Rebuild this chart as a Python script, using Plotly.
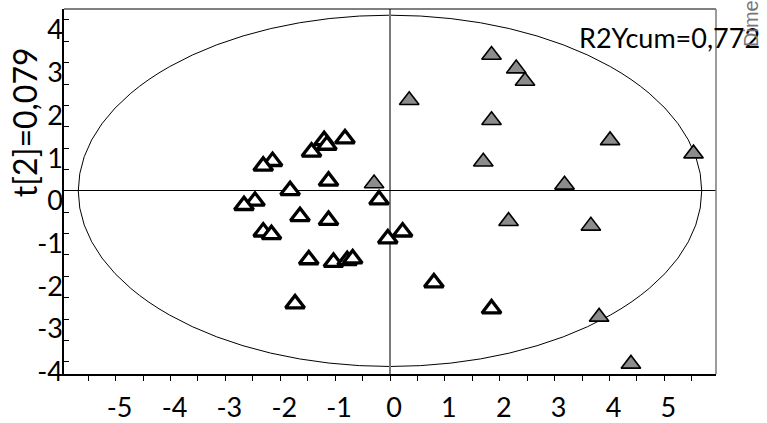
import plotly.graph_objects as go

# Score coordinates t[1] (x) and t[2] (y) for the two classes
class1_t1 = [-1.20, -0.82, -1.15, -1.43, -2.14, -2.31, -1.12, -1.82, -2.46, -2.66,
             -0.20, -1.64, -1.12, -2.31, -2.16, 0.23, -0.04, -1.48, -1.03, -0.78,
             -0.68, -1.73, 0.80, 1.85]
class1_t2 = [1.18, 1.22, 1.07, 0.91, 0.69, 0.58, 0.23, 0.01, -0.24, -0.34,
             -0.21, -0.60, -0.69, -0.96, -1.02, -0.96, -1.12, -1.61, -1.67, -1.63,
             -1.59, -2.64, -2.15, -2.76]

class2_t1 = [1.85, 2.30, 2.46, 0.35, 1.85, 4.01, 5.53, 1.70, 3.18, 2.16,
             3.66, 3.81, 4.39, -0.29]
class2_t2 = [3.18, 2.86, 2.57, 2.12, 1.65, 1.18, 0.87, 0.68, 0.14, -0.71,
             -0.82, -2.95, -4.05, 0.17]

# Hotelling T2 ellipse semi-axes
ellipse_a = 5.68
ellipse_b = 4.11

x_ticks = [-5, -4, -3, -2, -1, 0, 1, 2, 3, 4, 5]
y_ticks = [-4, -3, -2, -1, 0, 1, 2, 3, 4]

y_title = "t[2]=0,079"
r2_text = "R2Ycum=0,772"
side_text = "Dime"

FONT = "Lato"

fig = go.Figure()

fig.add_trace(go.Scatter(
    x=class2_t1, y=class2_t2, mode="markers", name="Class 2",
    marker=dict(symbol="triangle-up", size=17, color="#8c8c8c",
                line=dict(color="black", width=1.6)),
))
fig.add_trace(go.Scatter(
    x=class1_t1, y=class1_t2, mode="markers", name="Class 1",
    marker=dict(symbol="triangle-up", size=16.5, color="white",
                line=dict(color="black", width=3.3)),
))

fig.add_shape(type="circle", xref="x", yref="y",
              x0=-ellipse_a, x1=ellipse_a, y0=-ellipse_b, y1=ellipse_b,
              line=dict(color="black", width=1), layer="below")

# frame: top (black) and right (grey)
fig.add_shape(type="line", xref="paper", yref="paper", x0=0, x1=1, y0=1, y1=1,
              line=dict(color="black", width=1))
fig.add_shape(type="line", xref="paper", yref="paper", x0=1, x1=1, y0=0, y1=1,
              line=dict(color="#7a7a7a", width=1.5))

fig.add_annotation(text=y_title, xref="paper", yref="paper", x=0, y=0.69,
                   xanchor="center", yanchor="middle", xshift=-40, textangle=-90,
                   showarrow=False, font=dict(family=FONT, size=32, color="black"))
fig.add_annotation(text=r2_text, xref="paper", yref="paper", x=1, y=1,
                   xanchor="center", yanchor="middle", xshift=-47, yshift=-28,
                   showarrow=False, font=dict(family=FONT, size=27, color="black"))
fig.add_annotation(text=side_text, xref="paper", yref="paper", x=1, y=1,
                   xanchor="center", yanchor="middle", xshift=35, yshift=-15,
                   textangle=-90, showarrow=False,
                   font=dict(family="Liberation Sans", size=20, color="#777777"))

fig.update_xaxes(
    range=[-5.94, 5.94], tickvals=x_ticks, ticktext=[str(v) for v in x_ticks],
    ticks="outside", ticklen=5, tickwidth=1, tickcolor="black",
    minor=dict(dtick=0.5, ticks="outside", ticklen=5, tickcolor="black"),
    showline=True, linecolor="black", linewidth=1.5,
    showgrid=False, zeroline=True, zerolinecolor="#7a7a7a", zerolinewidth=1.5,
    tickfont=dict(family=FONT, size=27, color="black"),
    ticklabelshift=4, ticklabelstandoff=4, automargin=False,
)
fig.update_yaxes(
    range=[-4.286, 4.255], tickvals=y_ticks, ticktext=[str(v) for v in y_ticks],
    ticks="inside", ticklen=5, tickwidth=1, tickcolor="black",
    minor=dict(dtick=0.5, ticks="inside", ticklen=5, tickcolor="black"),
    showline=True, linecolor="black", linewidth=1.5,
    showgrid=False, zeroline=True, zerolinecolor="black", zerolinewidth=1,
    tickfont=dict(family=FONT, size=27, color="black"),
    ticklabelshift=10, ticklabelstandoff=-6, automargin=False,
)

fig.update_layout(
    width=767, height=423,
    margin=dict(l=64, r=51, t=9, b=49),
    paper_bgcolor="white", plot_bgcolor="white",
    showlegend=False,
)

fig.write_html("out.html")
